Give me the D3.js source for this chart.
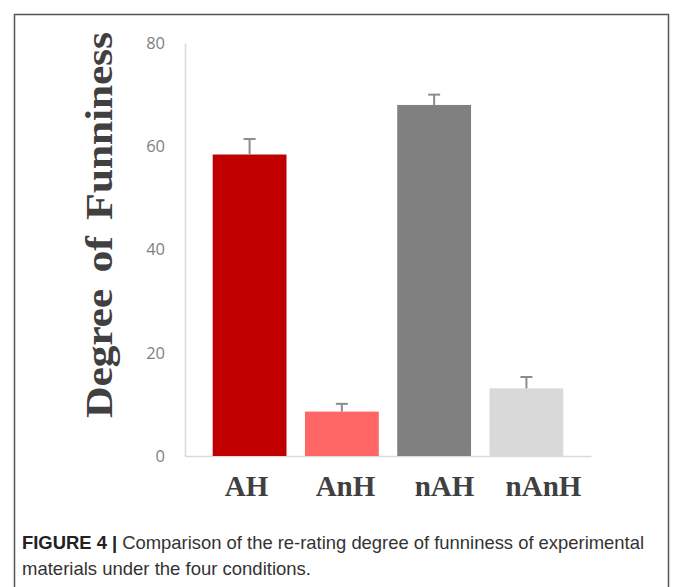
<!DOCTYPE html>
<html>
<head>
<meta charset="utf-8">
<script src="https://cdn.jsdelivr.net/npm/d3@7"></script>
<style>
  body { margin: 0; background: #fff; }
  svg { display: block; }
</style>
</head>
<body>
<svg width="674" height="587"></svg>
<script>
// data
var conditions = ["AH", "AnH", "nAH", "nAnH"];
var means = [58.4, 8.6, 68.0, 13.1];
var errors = [3.0, 1.5, 2.0, 2.2];
var barColors = ["#c00000", "#ff6666", "#808080", "#d9d9d9"];
var yTicks = [0, 20, 40, 60, 80];

var svg = d3.select("svg");

// frame around figure + caption (open at the bottom)
svg.append("path")
  .attr("d", "M14.5,600V14.5H668.5V600")
  .attr("fill", "none")
  .attr("stroke", "#555")
  .attr("stroke-width", 1.5);

var x = d3.scaleBand()
  .domain(conditions)
  .range([185, 591])
  .paddingInner(0.2)
  .paddingOuter(0.3);

var y = d3.scaleLinear()
  .domain([0, 80])
  .range([456, 43]);

// category labels are not exactly under the bars in the original
var xLab = d3.scalePoint()
  .domain(conditions)
  .range([246.5, 543.5]);

// y axis
var yAxis = svg.append("g")
  .attr("transform", "translate(185,0)")
  .call(d3.axisLeft(y).tickValues(yTicks).tickSize(0).tickPadding(20));
yAxis.select(".domain").attr("stroke", "#d9d9d9").attr("stroke-width", 1.5);
yAxis.selectAll("text")
  .attr("fill", "#7f7f7f")
  .style("font-family", "'Open Sans', sans-serif")
  .style("font-size", "16.5px");

// x baseline
var xAxis = svg.append("g")
  .attr("transform", "translate(0," + y(0) + ")")
  .call(d3.axisBottom(x).tickSize(0).tickFormat(""));
xAxis.select(".domain").attr("stroke", "#d9d9d9").attr("stroke-width", 1.5);

// bars
svg.selectAll(".bar")
  .data(conditions)
  .enter().append("rect")
  .attr("class", "bar")
  .attr("x", function(d) { return x(d); })
  .attr("width", x.bandwidth())
  .attr("y", function(d, i) { return y(means[i]); })
  .attr("height", function(d, i) { return y(0) - y(means[i]); })
  .attr("fill", function(d, i) { return barColors[i]; });

// upper error bars
var err = svg.selectAll(".err")
  .data(conditions)
  .enter().append("g")
  .attr("class", "err")
  .attr("stroke", "#8c8c8c")
  .attr("stroke-width", 2);
err.append("line")
  .attr("x1", function(d) { return x(d) + x.bandwidth() / 2; })
  .attr("x2", function(d) { return x(d) + x.bandwidth() / 2; })
  .attr("y1", function(d, i) { return y(means[i]); })
  .attr("y2", function(d, i) { return y(means[i] + errors[i]); });
err.append("line")
  .attr("x1", function(d) { return x(d) + x.bandwidth() / 2 - 6; })
  .attr("x2", function(d) { return x(d) + x.bandwidth() / 2 + 6; })
  .attr("y1", function(d, i) { return y(means[i] + errors[i]); })
  .attr("y2", function(d, i) { return y(means[i] + errors[i]); });

// category labels
svg.selectAll(".cat")
  .data(conditions)
  .enter().append("text")
  .attr("class", "cat")
  .attr("x", function(d) { return xLab(d); })
  .attr("y", 496)
  .attr("text-anchor", "middle")
  .attr("fill", "#404040")
  .style("font-family", "'Liberation Serif', serif")
  .style("font-weight", "bold")
  .style("font-size", "29px")
  .text(function(d) { return d; });

// y title
svg.append("text")
  .attr("transform", "translate(112,225) rotate(-90) scale(1,0.85)")
  .attr("text-anchor", "middle")
  .attr("fill", "#404040")
  .style("font-family", "'Liberation Serif', serif")
  .style("font-weight", "bold")
  .style("font-size", "44px")
  .style("word-spacing", "6px")
  .attr("textLength", 386)
  .text("Degree of Funniness");

// caption
var cap = svg.append("g")
  .style("font-family", "'Liberation Sans', sans-serif")
  .style("font-size", "18.5px")
  .attr("fill", "#333");
var l1 = cap.append("text").attr("x", 22).attr("y", 549)
  .attr("textLength", 622).attr("lengthAdjust", "spacingAndGlyphs");
l1.append("tspan").style("font-weight", "bold").attr("fill", "#222").text("FIGURE 4 | ");
l1.append("tspan").text("Comparison of the re-rating degree of funniness of experimental");
cap.append("text").attr("x", 22).attr("y", 575)
  .text("materials under the four conditions.");
</script>
</body>
</html>
